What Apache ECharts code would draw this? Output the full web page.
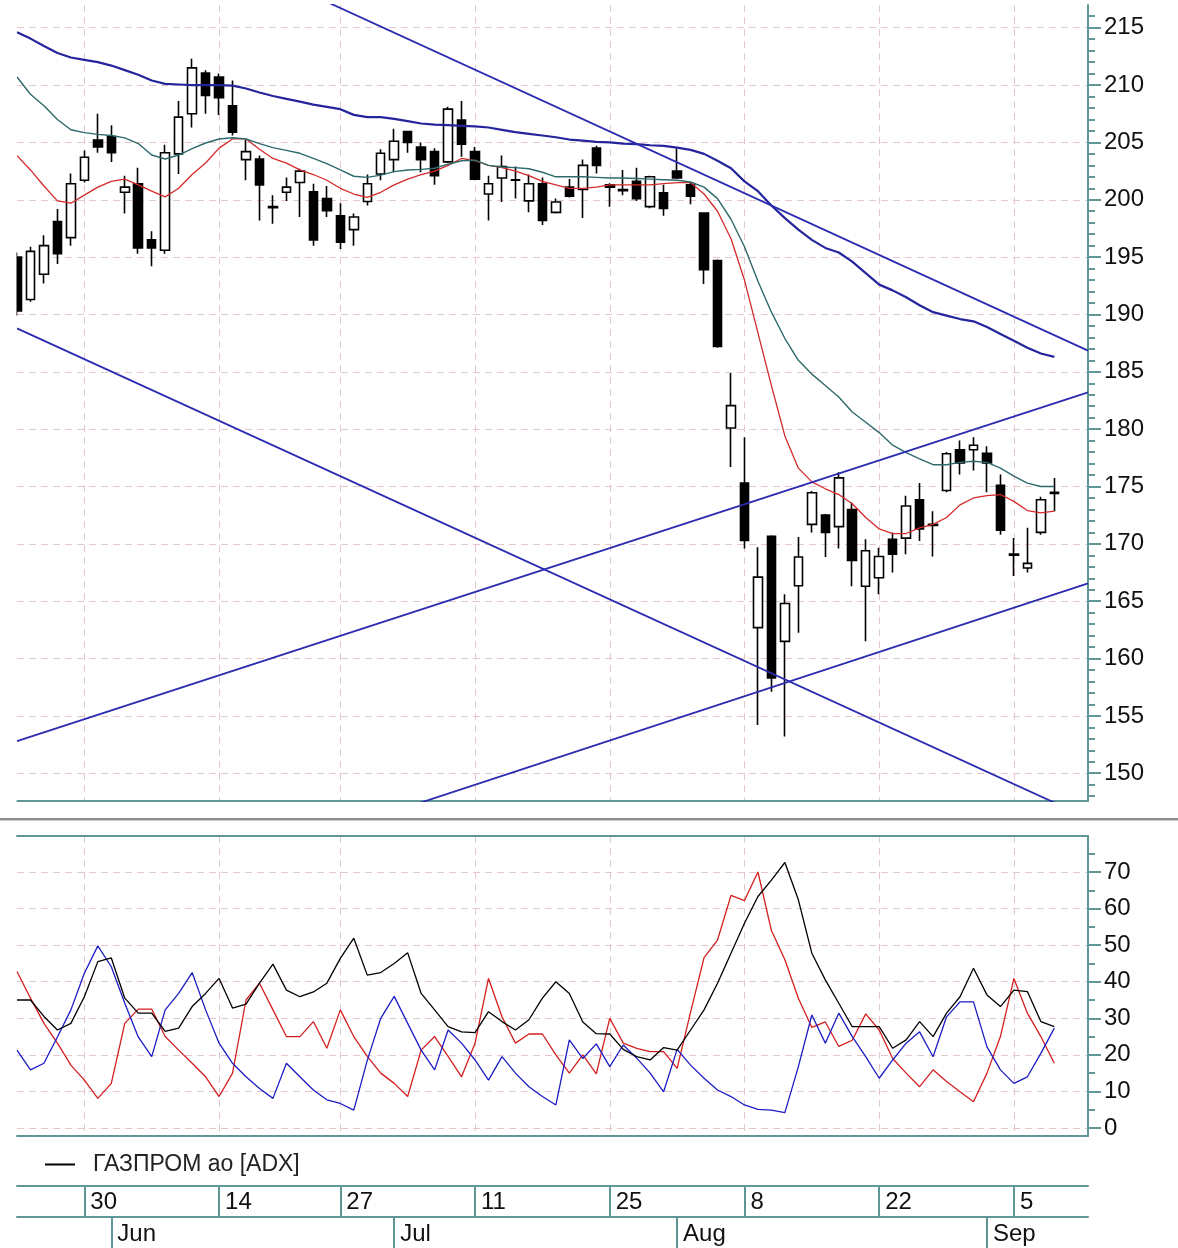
<!DOCTYPE html>
<html><head><meta charset="utf-8">
<script src="https://cdn.jsdelivr.net/npm/echarts@6/dist/echarts.min.js"></script>
<style>html,body{margin:0;padding:0;background:#fff}#c{width:1178px;height:1248px}</style>
</head><body><div id="c"></div>
<script>
// ---- trading days (2011) ----
const dates = [
 '2011-05-23','2011-05-24','2011-05-25','2011-05-26','2011-05-27','2011-05-30','2011-05-31',
 '2011-06-01','2011-06-02','2011-06-03','2011-06-06','2011-06-07','2011-06-08','2011-06-09','2011-06-10',
 '2011-06-14','2011-06-15','2011-06-16','2011-06-17','2011-06-20','2011-06-21','2011-06-22','2011-06-23','2011-06-24',
 '2011-06-27','2011-06-28','2011-06-29','2011-06-30',
 '2011-07-01','2011-07-04','2011-07-05','2011-07-06','2011-07-07','2011-07-08','2011-07-11','2011-07-12','2011-07-13',
 '2011-07-14','2011-07-15','2011-07-18','2011-07-19','2011-07-20','2011-07-21','2011-07-22','2011-07-25','2011-07-26',
 '2011-07-27','2011-07-28','2011-07-29',
 '2011-08-01','2011-08-02','2011-08-03','2011-08-04','2011-08-05','2011-08-08','2011-08-09','2011-08-10','2011-08-11',
 '2011-08-12','2011-08-15','2011-08-16','2011-08-17','2011-08-18','2011-08-19','2011-08-22','2011-08-23','2011-08-24',
 '2011-08-25','2011-08-26','2011-08-29','2011-08-30','2011-08-31',
 '2011-09-01','2011-09-02','2011-09-05','2011-09-06','2011-09-07','2011-09-08'
];
// ---- OHLC ----
const open = [195.0,191.3,193.5,198.1,196.7,201.7,205.2,205.5,200.65,201.4,
 196.5,195.6,204.0,207.5,211.05,210.7,208.2,203.5,203.55,199.4,
 200.65,201.5,200.7,200.1,198.6,197.4,199.85,202.25,203.5,205.95,
 204.6,204.2,203.3,206.95,204.2,200.5,201.9,201.75,199.9,201.4,
 198.9,201.1,200.9,204.5,201.3,200.9,201.6,199.4,200.6,202.5,
 201.3,198.85,194.7,180.1,175.3,162.7,170.65,161.5,166.35,171.7,
 172.5,171.5,173.0,166.3,167.05,170.4,170.5,173.85,171.7,174.65,
 178.2,178.2,177.9,175.1,169.1,167.9,171.0,174.4];
const close = [190.3,195.5,196.0,195.3,201.4,203.7,204.6,204.1,201.1,195.8,
 195.8,204.1,207.2,211.5,209.1,208.9,205.9,204.2,201.3,199.3,
 201.1,202.5,196.5,199.05,196.3,198.5,201.4,204.05,205.1,205.0,
 203.5,202.1,207.9,204.85,201.8,201.4,202.9,201.7,201.4,198.2,
 199.8,200.3,203.0,203.0,201.1,200.8,200.1,202.0,199.25,201.9,
 200.3,193.9,187.2,182.05,170.3,167.1,158.3,164.8,168.85,174.45,
 171.0,175.75,168.55,169.4,168.9,169.1,173.3,171.3,171.6,177.85,
 177.05,178.6,177.05,171.2,169.0,168.3,173.85,174.5];
const low = [189.9,191.1,192.7,194.4,196.0,201.5,204.1,203.3,198.8,195.3,
 194.2,195.3,202.25,206.3,207.5,207.4,205.6,201.7,198.2,197.9,
 199.9,198.5,196.0,198.5,195.7,196.0,199.5,201.7,202.4,204.1,
 202.4,201.3,203.2,203.75,201.7,198.2,199.8,200.1,198.9,197.8,
 198.8,200.2,198.4,202.3,199.4,200.4,199.9,199.25,198.6,201.8,
 199.6,192.65,187.1,176.7,169.6,154.2,157.1,153.2,162.25,171.0,
 168.85,169.6,166.3,161.5,165.6,167.5,169.1,170.25,168.9,174.5,
 176.05,176.4,174.5,170.8,167.2,167.5,170.8,172.85];
const high = [195.4,195.9,196.9,199.2,202.3,204.3,207.5,206.5,202.1,202.8,
 197.25,204.8,208.6,212.3,211.3,211.0,210.4,205.2,203.85,200.4,
 201.95,202.7,201.4,201.2,199.7,198.8,202.2,204.4,206.2,206.0,
 205.0,204.5,208.1,208.6,204.6,202.1,203.85,202.9,202.2,201.95,
 200.1,201.8,203.5,204.7,201.45,202.6,202.8,202.1,201.3,204.5,
 201.5,198.9,194.8,184.9,179.3,169.7,170.75,165.6,170.6,174.6,
 172.6,176.25,173.6,170.4,169.65,171.0,174.2,175.3,172.85,178.0,
 179.0,179.3,178.5,176.05,170.5,171.4,174.1,175.75];
// ---- moving averages ----
const maFast = [203.85,202.6,201.2,199.9,199.7,200.4,201.1,201.6,201.8,201.3,
 200.75,200.25,201.0,202.2,203.2,204.5,205.3,205.3,204.4,203.6,
 203.2,202.6,202.2,201.7,201.0,200.5,200.2,200.65,201.3,201.8,
 202.2,202.5,203.0,203.6,203.4,203.0,202.8,202.5,202.1,201.6,
 201.3,201.0,201.0,201.1,201.3,201.3,201.3,201.3,201.4,201.5,
 201.5,200.5,199.0,196.6,193.0,188.4,183.8,179.4,176.6,175.4,
 174.8,174.3,173.5,172.3,171.3,170.9,170.9,171.4,171.7,172.3,
 173.4,174.0,174.2,174.3,173.7,172.9,172.7,172.85];
const maMid = [210.7,209.2,208.2,207.0,206.1,205.85,205.7,205.6,205.4,204.9,
 203.9,203.55,203.9,204.45,204.95,205.3,205.4,205.3,204.9,204.55,
 204.3,204.05,203.6,203.15,202.6,202.05,201.95,202.15,202.45,202.6,
 202.65,202.75,203.1,203.4,203.45,203.0,202.85,202.8,202.7,202.4,
 202.0,202.0,202.0,201.95,201.9,201.9,201.85,201.8,201.75,201.7,
 201.55,201.1,200.1,198.3,195.9,192.9,190.2,187.9,186.0,184.8,
 183.8,182.8,181.5,180.6,179.7,178.6,177.95,177.4,176.9,176.9,
 177.1,177.2,177.1,176.6,175.9,175.3,175.0,175.0];
const maSlow = [214.6,214.05,213.4,212.8,212.4,212.2,212.0,211.7,211.3,210.9,
 210.4,210.1,210.05,210.0,210.0,210.0,209.95,209.7,209.35,209.05,
 208.8,208.55,208.3,208.1,207.9,207.4,207.2,207.2,207.05,206.85,
 206.65,206.55,206.5,206.45,206.4,206.3,206.1,205.9,205.75,205.6,
 205.45,205.25,205.15,205.05,205.0,204.9,204.85,204.75,204.7,204.55,
 204.35,204.0,203.4,202.75,201.6,200.75,199.5,198.4,197.4,196.5,
 195.8,195.4,194.6,193.6,192.6,192.1,191.5,190.8,190.2,189.9,
 189.6,189.4,188.9,188.3,187.7,187.1,186.6,186.3];
// ---- trend channel lines [dayIndex, price] ----
const trendA = [[20, 218.87], [79.5, 186.85]];
const trendB = [[0, 188.79], [79.5, 146.1]];
const trendC = [[0, 152.8], [79.5, 183.2]];
const trendD = [[0, 135.87], [79.5, 166.56]];
// ---- ADX indicator ----
const adx = [35.0,35.0,30.5,26.8,28.6,35.9,45.5,46.5,35.5,31.4,
 31.4,26.4,27.3,33.2,36.8,40.9,32.8,33.9,39.6,44.8,
 37.7,35.9,37.2,39.6,46.4,51.9,41.8,42.5,45.0,47.9,
 36.8,32.3,27.7,26.3,26.1,31.8,29.1,26.8,29.6,35.5,
 40.0,36.8,29.0,25.8,25.7,21.5,19.5,18.6,22.0,21.3,
 26.8,32.3,39.6,47.8,56.0,63.3,67.8,72.6,62.4,47.8,
 40.5,34.1,27.7,27.7,27.7,21.8,24.1,29.1,25.0,31.4,
 35.9,43.7,36.4,33.2,37.7,37.3,29.1,27.7];
const diMinus = [42.8,35.5,28.6,23.2,17.2,13.1,8.1,12.2,28.6,32.5,
 32.5,25.0,21.3,17.7,14.0,8.6,15.0,35.0,39.6,32.3,
 25.0,25.0,29.1,21.8,32.3,25.0,19.6,15.0,12.2,8.6,
 21.3,25.0,19.6,14.0,23.2,40.9,30.4,23.2,25.7,25.7,
 20.0,15.0,20.0,14.8,30.0,23.2,21.8,20.9,20.9,16.3,
 31.7,46.6,51.4,63.6,62.2,70.0,54.0,46.0,35.5,27.5,
 29.0,22.3,24.0,31.2,26.8,19.0,15.0,11.3,15.9,12.7,
 9.9,7.2,15.0,25.0,40.9,31.4,25.0,17.7];
const diPlus = [21.3,15.9,17.7,24.9,32.3,42.3,49.8,44.1,34.1,24.9,
 19.5,32.3,36.8,42.5,32.3,23.2,17.7,14.0,10.8,8.1,
 17.7,14.0,10.4,7.7,6.7,4.9,18.5,30.0,36.0,28.6,
 21.3,15.9,26.8,23.2,18.6,13.1,19.5,15.0,11.3,8.6,
 6.3,24.1,19.0,23.0,16.8,22.7,19.1,15.0,9.9,21.5,
 17.2,13.6,10.4,8.6,6.3,5.1,4.9,4.2,16.8,30.9,
 23.2,31.4,25.0,19.5,13.6,18.6,23.2,26.3,19.5,30.4,
 34.5,34.5,22.2,15.9,12.2,14.0,20.4,27.3];
// ---- ticks / labels ----
const priceTicks = [150,155,160,165,170,175,180,185,190,195,200,205,210,215];
const adxTicks = [0,10,20,30,40,50,60,70];
const dayLabelDates = ['2011-05-30','2011-06-14','2011-06-27','2011-07-11','2011-07-25','2011-08-08','2011-08-22','2011-09-05'];
const dayLabels = ['30','14','27','11','25','8','22','5'];
const monthStartDates = ['2011-06-01','2011-07-01','2011-08-01','2011-09-01'];
const monthLabels = ['Jun','Jul','Aug','Sep'];
const legendName = 'ГАЗПРОМ ао [ADX]';

// ---- derived ----
const X_MAX = 79.5;
const dayIdx = dayLabelDates.map(d => dates.indexOf(d));
const monthIdx = monthStartDates.map(d => dates.indexOf(d));
const dayMap = {}; dayIdx.forEach((v, k) => dayMap[v] = dayLabels[k]);
const monMap = {}; monthIdx.forEach((v, k) => monMap[v] = monthLabels[k]);
const priceMinor = []; priceTicks.forEach(t => { for (let k = -2; k <= 2; k++) if (k) priceMinor.push(t + k); }); priceMinor.push(216);
const adxMinor = adxTicks.map(t => t + 5);
const ohlc = dates.map((d, i) => [i, open[i], close[i], low[i], high[i]]);
const idxLine = arr => arr.map((v, i) => [i, v]);

const GRID_L = 17, GRID_R = 90, CANVAS_W = 1178;
const GRID_W = CANVAS_W - GRID_L - GRID_R;
const teal = '#5f9797';
const gridDash = { color: '#e4c6cc', width: 1, type: [7, 5] };
const FONT = 'Liberation Sans';
const lbl = { color: '#111', fontSize: 24, fontFamily: FONT };

const chart = echarts.init(document.getElementById('c'), null, { width: 1178, height: 1248 });
const gridBase = { left: GRID_L, right: GRID_R, outerBoundsMode: 'none', containLabel: false };
const xBase = { type: 'value', min: 0, max: X_MAX, axisLabel: { show: false }, axisTick: { show: false }, splitLine: { show: false } };
const minorAxis = (grid, min, max, vals) => ({
  type: 'value', gridIndex: grid, position: 'left', offset: -GRID_W, min: min, max: max,
  axisLine: { show: false, onZero: false },
  axisTick: { show: true, inside: true, length: 7, customValues: vals, lineStyle: { color: teal, width: 2 } },
  axisLabel: { show: false }, splitLine: { show: false }
});
chart.setOption({
  animation: false,
  backgroundColor: '#fff',
  grid: [
    Object.assign({ top: 5, height: 796 }, gridBase),
    Object.assign({ top: 836, height: 300 }, gridBase),
    Object.assign({ top: 1186, height: 31 }, gridBase),
    Object.assign({ top: 1217, height: 31 }, gridBase)
  ],
  legend: {
    data: [{ name: legendName, icon: 'rect' }],
    left: 45, top: 1153, padding: 0, itemWidth: 30, itemHeight: 2,
    textStyle: { fontSize: 23, color: '#222', fontFamily: FONT, padding: [0, 0, 0, 13] },
    selectedMode: false
  },
  xAxis: [
    Object.assign({}, xBase, { gridIndex: 0, position: 'bottom',
      axisLine: { show: true, onZero: false, lineStyle: { color: teal, width: 2 } },
      axisTick: { show: false, customValues: dayIdx },
      splitLine: { show: true, lineStyle: gridDash } }),
    Object.assign({}, xBase, { gridIndex: 1, position: 'bottom',
      axisLine: { show: true, onZero: false, lineStyle: { color: teal, width: 2 } },
      axisTick: { show: false, customValues: dayIdx },
      splitLine: { show: true, lineStyle: gridDash } }),
    Object.assign({}, xBase, { gridIndex: 1, position: 'top',
      axisLine: { show: true, onZero: false, lineStyle: { color: teal, width: 2 } } }),
    Object.assign({}, xBase, { gridIndex: 2, position: 'top',
      axisLine: { show: true, onZero: false, lineStyle: { color: teal, width: 2 } },
      axisTick: { show: true, inside: true, length: 31, customValues: dayIdx, lineStyle: { color: teal, width: 2 } },
      axisLabel: Object.assign({ show: true, inside: true, margin: 4, align: 'left', padding: [0, 0, 0, 6],
        customValues: dayIdx, formatter: v => dayMap[Math.round(v)] || '' }, lbl) }),
    Object.assign({}, xBase, { gridIndex: 3, position: 'top',
      axisLine: { show: true, onZero: false, lineStyle: { color: teal, width: 2 } },
      axisTick: { show: true, inside: true, length: 31, customValues: monthIdx, lineStyle: { color: teal, width: 2 } },
      axisLabel: Object.assign({ show: true, inside: true, margin: 5, align: 'left', padding: [0, 0, 0, 6],
        customValues: monthIdx, formatter: v => monMap[Math.round(v)] || '' }, lbl) })
  ],
  yAxis: [
    { type: 'value', gridIndex: 0, position: 'right', min: 147.58, max: 216.98,
      axisLine: { show: true, onZero: false, lineStyle: { color: teal, width: 2 } },
      axisTick: { show: true, length: 13, customValues: priceTicks, lineStyle: { color: teal, width: 2 } },
      axisLabel: Object.assign({ show: true, margin: 16, customValues: priceTicks }, lbl),
      splitLine: { show: true, lineStyle: gridDash } },
    minorAxis(0, 147.58, 216.98, priceMinor),
    { type: 'value', gridIndex: 1, position: 'right', min: -2.19, max: 79.85,
      axisLine: { show: true, onZero: false, lineStyle: { color: teal, width: 2 } },
      axisTick: { show: true, length: 13, customValues: adxTicks, lineStyle: { color: teal, width: 2 } },
      axisLabel: Object.assign({ show: true, margin: 16, customValues: adxTicks }, lbl),
      splitLine: { show: true, lineStyle: gridDash } },
    minorAxis(1, -2.19, 79.85, adxMinor),
    { type: 'value', gridIndex: 2, show: false, min: 0, max: 1 },
    { type: 'value', gridIndex: 3, show: false, min: 0, max: 1 }
  ],
  graphic: [
    // white margin left of the price panel (the first candle is cut by the plot edge)
    { type: 'rect', z: 100, shape: { x: 0, y: 0, width: GRID_L - 0.5, height: 802 }, style: { fill: '#ffffff' }, silent: true },
    { type: 'rect', z: 100, shape: { x: 0, y: 818, width: 1178, height: 2 }, style: { fill: '#8e8e8e' }, silent: true },
    { type: 'rect', z: 100, shape: { x: 0, y: 820, width: 1178, height: 1 }, style: { fill: '#cfcfcf' }, silent: true }
  ],
  series: [
    { type: 'candlestick', name: 'price', xAxisIndex: 0, yAxisIndex: 0, data: ohlc, barWidth: 9, clip: true,
      encode: { x: 0, y: [1, 2, 3, 4] },
      itemStyle: { color: '#ffffff', color0: '#000000', borderColor: '#000000', borderColor0: '#000000', borderColorDoji: '#000000', borderWidth: 1.6 } },
    { type: 'line', name: 'MA fast', xAxisIndex: 0, yAxisIndex: 0, data: idxLine(maFast), showSymbol: false, symbol: 'none',
      lineStyle: { color: '#d42a2a', width: 1.3 } },
    { type: 'line', name: 'MA mid', xAxisIndex: 0, yAxisIndex: 0, data: idxLine(maMid), showSymbol: false, symbol: 'none',
      lineStyle: { color: '#2e6a6c', width: 1.4 } },
    { type: 'line', name: 'MA slow', xAxisIndex: 0, yAxisIndex: 0, data: idxLine(maSlow), showSymbol: false, symbol: 'none',
      lineStyle: { color: '#24249c', width: 2.2 } },
    { type: 'line', name: 'tA', xAxisIndex: 0, yAxisIndex: 0, data: trendA, symbol: 'none', lineStyle: { color: '#2b2bb0', width: 1.8 } },
    { type: 'line', name: 'tB', xAxisIndex: 0, yAxisIndex: 0, data: trendB, symbol: 'none', lineStyle: { color: '#2b2bb0', width: 1.8 } },
    { type: 'line', name: 'tC', xAxisIndex: 0, yAxisIndex: 0, data: trendC, symbol: 'none', lineStyle: { color: '#2b2bb0', width: 1.8 } },
    { type: 'line', name: 'tD', xAxisIndex: 0, yAxisIndex: 0, data: trendD, symbol: 'none', lineStyle: { color: '#2b2bb0', width: 1.8 } },
    { type: 'line', name: 'DI-', xAxisIndex: 1, yAxisIndex: 2, data: idxLine(diMinus), symbol: 'none', lineStyle: { color: '#d41e1e', width: 1.3 } },
    { type: 'line', name: 'DI+', xAxisIndex: 1, yAxisIndex: 2, data: idxLine(diPlus), symbol: 'none', lineStyle: { color: '#1c1cc4', width: 1.3 } },
    { type: 'line', name: legendName, xAxisIndex: 1, yAxisIndex: 2, data: idxLine(adx), symbol: 'none',
      itemStyle: { color: '#000' }, lineStyle: { color: '#000', width: 1.3 } }
  ]
});
</script>
</body></html>
